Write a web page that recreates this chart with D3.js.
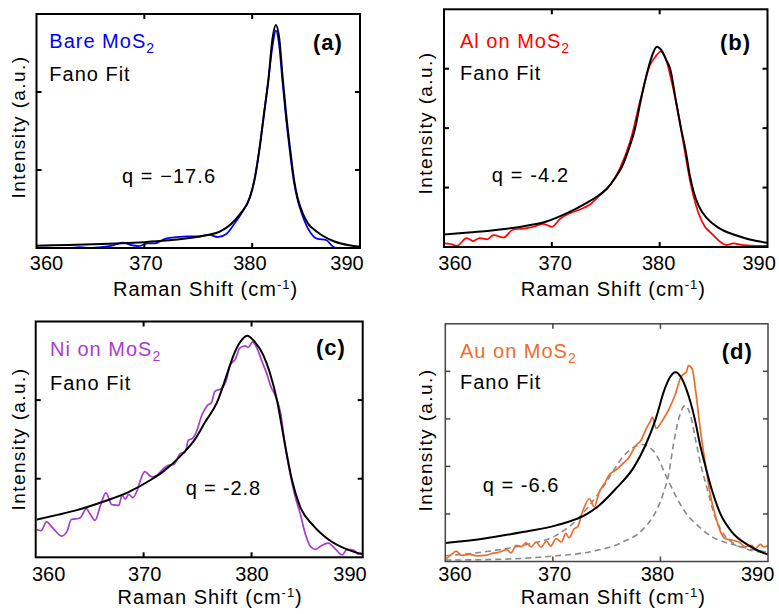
<!DOCTYPE html>
<html>
<head>
<meta charset="utf-8">
<script src="https://cdn.jsdelivr.net/npm/d3@7"></script>
<style>
  html, body { margin: 0; padding: 0; background: #fff; }
  svg { display: block; font-family: "Liberation Sans", Arial, Helvetica, sans-serif; }
</style>
</head>
<body>
<svg id="chart" width="779" height="614"></svg>
<script>
// ---------- data: Raman shift (cm^-1) vs. normalised intensity ----------
const ramanTicks = [360, 370, 380, 390];
const panelLetters = ["(a)", "(b)", "(c)", "(d)"];
const sampleNames = ["Bare MoS", "Al on MoS", "Ni on MoS", "Au on MoS"];
const fitName = "Fano Fit";
const qValues = ["q = \u221217.6", "q = -4.2", "q = -2.8", "q = -6.6"];
const intensityDivisions = [3, 4, 3, 5];

// (a) bare MoS2
const bareData = [[360,0.0],[361,0.005],[362,0.0],[363,0.0],[364,0.01],[365,0.0],[366,0.01],[367,0.03],[368,0.07],[368.7,0.04],[369.5,0.025],[370.3,0.06],[371,0.06],[372,0.12],[373,0.14],[374,0.15],[375,0.15],[376,0.17],[376.8,0.14],[377.6,0.18],[378.3,0.3],[379,0.44],[379.8,0.66],[380.2,0.87],[380.7,1.3],[381.1,1.73],[381.5,2.15],[381.9,2.6],[382.2,2.79],[382.5,2.6],[382.8,2.15],[383.1,1.72],[383.45,1.29],[383.85,0.86],[384.15,0.65],[384.6,0.44],[385.0,0.3],[385.4,0.2],[386.0,0.12],[386.9,0.1],[387.4,0.03],[387.8,0.0],[389,0.0],[390,0.0]];
const bareFit = [[360,0.03],[363,0.04],[366,0.05],[368,0.06],[370,0.075],[372,0.095],[374,0.125],[375,0.145],[376,0.17],[377,0.21],[378,0.3],[378.9,0.44],[379.8,0.65],[380.2,0.86],[380.7,1.29],[381.1,1.72],[381.5,2.15],[381.9,2.7],[382.2,2.86],[382.5,2.7],[382.85,2.15],[383.15,1.72],[383.5,1.29],[383.9,0.86],[384.2,0.65],[384.7,0.44],[385.2,0.31],[385.8,0.23],[386.5,0.16],[387.7,0.08],[389,0.035],[390,0.015]];

// (b) Al on MoS2
const alData = [[360,0.06],[360.6,0.05],[361.2,0.02],[362.1,0.15],[362.7,0.1],[363.3,0.15],[364,0.13],[364.6,0.2],[365.5,0.16],[366.4,0.29],[367.4,0.31],[368.3,0.34],[369.2,0.39],[370,0.34],[370.8,0.48],[371.7,0.57],[372.6,0.63],[373.5,0.71],[374.5,0.88],[375.4,1.04],[376.3,1.32],[377.3,1.8],[378.2,2.47],[379.1,3.06],[379.6,3.2],[380.1,3.29],[380.6,3.15],[381.0,2.87],[381.6,2.36],[382.2,1.75],[382.8,1.13],[383.4,0.68],[384.2,0.34],[384.8,0.23],[385.6,0.09],[386.2,0.03],[386.8,0.06],[387.8,0.03],[389,0.02],[390,0.02]];
const alFit = [[360,0.21],[362,0.24],[364,0.27],[366,0.31],[368,0.37],[369.5,0.43],[371.4,0.57],[373.2,0.74],[374.2,0.85],[375.1,0.98],[375.9,1.17],[376.5,1.35],[377.1,1.63],[377.7,1.98],[378.25,2.47],[378.9,2.98],[379.3,3.22],[379.73,3.37],[380.2,3.3],[380.6,3.15],[381.0,2.98],[381.5,2.47],[382.0,1.98],[382.4,1.63],[382.8,1.2],[383.2,0.9],[383.6,0.7],[384.4,0.48],[385.4,0.33],[387.2,0.19],[389.0,0.1],[390,0.07]];

// (c) Ni on MoS2
const niData = [[360.1,0.35],[360.5,0.34],[361.0,0.45],[361.6,0.37],[362.4,0.27],[362.9,0.33],[363.3,0.48],[364.1,0.5],[364.7,0.62],[365.0,0.56],[365.5,0.47],[366.0,0.66],[366.5,0.82],[367.05,0.67],[367.7,0.66],[368.0,0.79],[368.3,0.74],[368.6,0.8],[369.0,0.76],[369.4,0.85],[369.7,0.98],[370.1,1.09],[370.8,1.02],[371.2,1.04],[371.7,1.11],[372.3,1.17],[372.8,1.18],[373.4,1.32],[373.85,1.34],[374.15,1.49],[374.5,1.51],[374.9,1.6],[375.4,1.81],[375.9,1.93],[376.3,1.97],[376.6,2.11],[377.25,2.15],[377.7,2.27],[378.0,2.44],[378.5,2.52],[378.9,2.66],[379.4,2.69],[379.7,2.67],[380.1,2.74],[380.5,2.66],[381.0,2.48],[381.4,2.34],[381.8,2.17],[382.2,2.06],[382.7,1.83],[383.1,1.43],[383.6,1.05],[384.05,0.77],[384.5,0.56],[385.0,0.29],[385.45,0.14],[385.9,0.1],[386.4,0.14],[387.1,0.18],[387.8,0.1],[388.4,0.03],[388.85,0.1],[389.5,0.09],[389.9,0.04],[390.2,0.06]];
const niFit = [[360.1,0.48],[362,0.54],[363.8,0.6],[366.3,0.71],[368.6,0.83],[370.6,0.98],[371.8,1.09],[373.5,1.3],[374.8,1.51],[375.7,1.72],[376.8,1.97],[377.8,2.36],[378.33,2.57],[378.9,2.73],[379.6,2.82],[380.3,2.74],[381.1,2.57],[381.67,2.36],[382.4,1.97],[383.0,1.51],[383.75,0.98],[384.45,0.66],[385.75,0.4],[387.1,0.23],[388.85,0.1],[390.24,0.04]];

// (d) Au on MoS2, with its two Lorentzian components
const auData = [[360.1,0.06],[360.7,0.17],[361.0,0.22],[361.5,0.13],[362.3,0.15],[362.9,0.12],[363.7,0.13],[364.4,0.17],[365.05,0.2],[365.7,0.25],[366.1,0.18],[366.6,0.34],[367.05,0.31],[367.5,0.39],[368.0,0.31],[368.45,0.41],[368.9,0.3],[369.4,0.43],[369.8,0.32],[370.3,0.48],[370.8,0.41],[371.2,0.59],[371.5,0.5],[372.0,0.69],[372.3,0.73],[372.75,1.04],[373.4,1.32],[373.85,1.15],[374.3,1.46],[374.8,1.64],[375.2,1.81],[375.85,1.92],[376.5,2.06],[377.1,2.2],[377.7,2.44],[378.2,2.55],[378.6,2.76],[379.1,2.97],[379.25,3.04],[379.6,2.8],[380.2,2.97],[380.8,3.21],[381.4,3.53],[381.9,3.88],[382.2,3.95],[382.4,3.98],[382.6,4.12],[382.95,4.05],[383.25,3.63],[383.7,2.79],[384.2,2.02],[384.65,1.39],[385.1,0.97],[385.6,0.62],[386.05,0.48],[386.65,0.45],[387.3,0.41],[387.9,0.31],[388.5,0.34],[388.8,0.27],[389.3,0.36],[389.6,0.31],[390,0.33]];
const auFit = [[360,0.39],[363.5,0.48],[367.2,0.62],[370.3,0.76],[373.1,0.99],[374.3,1.18],[375.85,1.53],[377.55,1.99],[378.6,2.44],[379.55,2.99],[380.4,3.63],[380.9,3.88],[381.4,3.98],[381.9,3.88],[382.4,3.63],[383.2,2.99],[383.7,2.44],[384.2,1.99],[384.75,1.53],[385.6,0.99],[386.65,0.62],[388.2,0.34],[389.7,0.17],[390,0.15]];
const auPeakLow = [[360,0.12],[362,0.16],[364.2,0.22],[367.2,0.34],[370.3,0.55],[372.2,0.87],[373.4,1.18],[374.65,1.56],[375.6,1.9],[376.5,2.2],[377.5,2.4],[378.45,2.46],[379.0,2.4],[379.55,2.27],[380.5,1.81],[381.4,1.39],[382.3,1.04],[383.6,0.73],[384.8,0.52],[386.05,0.4],[387.6,0.31],[388.8,0.24],[390,0.2]];
const auPeakHigh = [[360,0.03],[365.6,0.05],[370.3,0.12],[373.4,0.2],[376.5,0.41],[378.3,0.66],[379.55,1.04],[380.2,1.39],[380.8,1.88],[381.2,2.45],[381.7,3.0],[382.3,3.28],[382.8,3.07],[383.25,2.58],[383.8,1.99],[384.35,1.53],[385.0,0.99],[385.75,0.62],[386.65,0.4],[387.9,0.27],[389.2,0.2],[390,0.17]];

// ---------- layout ----------
const FONT = 20;
const panels = [
  { box: [36.5, 360, 14, 248], xMax: 390, frame: "#000", frameW: 2,
    color: "#0000ff", data: bareData, fit: bareFit, parts: [],
    tickDx: [10, 1.7, -2.3, -13], tickY: 270, titleDx: 7.3, titleY: 296,
    yLab: [25, 127], legend: [49.3, 48, 81], letter: [313, 50], q: [122, 183, 93] },
  { box: [444, 767.5, 9.3, 247], xMax: 390, frame: "#000", frameW: 2,
    color: "#ff0000", data: alData, fit: alFit, parts: [],
    tickDx: [11, 3.3, -1, -8.3], tickY: 269.5, titleDx: 7.6, titleY: 296,
    yLab: [432, 123], legend: [460, 47.7, 80], letter: [720, 50], q: [491.7, 181.7, 76.3] },
  { box: [35.7, 362.7, 321.5, 557.3], xMax: 390.3, frame: "#000", frameW: 2,
    color: "#aa3ccc", data: niData, fit: niFit, parts: [],
    tickDx: [13, 1, 0.5, -9.4], tickY: 581, titleDx: 11, titleY: 604,
    yLab: [25, 439], legend: [50, 355.7, 390], letter: [316, 355], q: [185.7, 495, 74.3] },
  { box: [445.3, 768, 323.8, 561.5], xMax: 390, frame: "#444", frameW: 1.5,
    color: "#ee6c2c", data: auData, fit: auFit, parts: [auPeakLow, auPeakHigh],
    tickDx: [9.7, 1.7, -3, -10.3], tickY: 581, titleDx: 6.7, titleY: 604,
    yLab: [432, 440], legend: [460, 357.7, 389], letter: [721.7, 359], q: [482.7, 491.7, 75.6] }
];

const svg = d3.select("#chart");

panels.forEach((p, i) => {
  const [x0, x1, y0, y1] = p.box;
  const x = d3.scaleLinear().domain([ramanTicks[0], p.xMax]).range([x0, x1]);
  const y = d3.scaleLinear().domain([0, intensityDivisions[i]]).range([y1, y0]);
  const g = svg.append("g");

  const clipId = "clip" + i;
  svg.append("clipPath").attr("id", clipId)
    .append("rect").attr("x", x0).attr("y", y0).attr("width", x1 - x0).attr("height", y1 - y0);

  const line = d3.line().x(d => x(d[0])).y(d => y(d[1])).curve(d3.curveMonotoneX);
  const plot = g.append("g").attr("clip-path", `url(#${clipId})`);

  // Lorentzian components (dashed)
  p.parts.forEach(part => {
    plot.append("path").attr("d", line(part)).attr("fill", "none")
      .attr("stroke", "#8a8a8a").attr("stroke-width", 1.6).attr("stroke-dasharray", "6,4");
  });
  // measured spectrum
  plot.append("path").attr("d", line(p.data)).attr("fill", "none")
    .attr("stroke", p.color).attr("stroke-width", 1.7).attr("stroke-linejoin", "round");
  // Fano fit
  plot.append("path").attr("d", line(p.fit)).attr("fill", "none")
    .attr("stroke", "#000").attr("stroke-width", 2).attr("stroke-linejoin", "round");

  // inward ticks on all four sides
  const tl = 5;
  const innerX = ramanTicks.slice(1, -1);
  const innerY = d3.range(1, intensityDivisions[i]);
  const ticks = g.append("g").attr("stroke", p.frame).attr("stroke-width", p.frameW);
  innerX.forEach(t => {
    ticks.append("line").attr("x1", x(t)).attr("x2", x(t)).attr("y1", y1).attr("y2", y1 - tl);
    ticks.append("line").attr("x1", x(t)).attr("x2", x(t)).attr("y1", y0).attr("y2", y0 + tl);
  });
  innerY.forEach(t => {
    ticks.append("line").attr("x1", x0).attr("x2", x0 + tl).attr("y1", y(t)).attr("y2", y(t));
    ticks.append("line").attr("x1", x1).attr("x2", x1 - tl).attr("y1", y(t)).attr("y2", y(t));
  });

  // frame
  g.append("rect").attr("x", x0).attr("y", y0).attr("width", x1 - x0).attr("height", y1 - y0)
    .attr("fill", "none").attr("stroke", p.frame).attr("stroke-width", p.frameW);

  // x tick labels
  g.selectAll(".xt").data(ramanTicks).enter().append("text")
    .attr("x", (d, k) => x(d) + p.tickDx[k]).attr("y", p.tickY)
    .attr("text-anchor", "middle").attr("font-size", FONT).attr("fill", "#000")
    .text(d => d);

  // x axis title
  const title = g.append("text").attr("x", (x0 + x1) / 2 + p.titleDx).attr("y", p.titleY)
    .attr("text-anchor", "middle").attr("font-size", FONT).attr("letter-spacing", 1).attr("fill", "#000");
  title.append("tspan").text("Raman Shift (cm");
  title.append("tspan").attr("dy", -7).attr("font-size", 13).text("-1");
  title.append("tspan").attr("dy", 7).text(")");

  // y axis title
  g.append("text").attr("transform", `translate(${p.yLab[0]},${p.yLab[1]}) rotate(-90)`)
    .attr("text-anchor", "middle").attr("font-size", 19).attr("letter-spacing", 1.4).attr("fill", "#000")
    .text("Intensity (a.u.)");

  // legend lines
  const lg = g.append("text").attr("x", p.legend[0]).attr("y", p.legend[1])
    .attr("font-size", FONT).attr("letter-spacing", 1).attr("fill", p.color);
  lg.append("tspan").text(sampleNames[i]);
  lg.append("tspan").attr("dy", 5).attr("font-size", 14).text("2");
  g.append("text").attr("x", p.legend[0]).attr("y", p.legend[2])
    .attr("font-size", FONT).attr("letter-spacing", 1).attr("fill", "#000").text(fitName);

  // panel letter
  g.append("text").attr("x", p.letter[0]).attr("y", p.letter[1])
    .attr("font-size", 22).attr("font-weight", "bold").attr("letter-spacing", 1).attr("fill", "#000")
    .text(panelLetters[i]);

  // asymmetry parameter
  g.append("text").attr("x", p.q[0]).attr("y", p.q[1])
    .attr("font-size", FONT).attr("textLength", p.q[2]).attr("lengthAdjust", "spacing")
    .attr("fill", "#000").text(qValues[i]);
});
</script>
</body>
</html>
